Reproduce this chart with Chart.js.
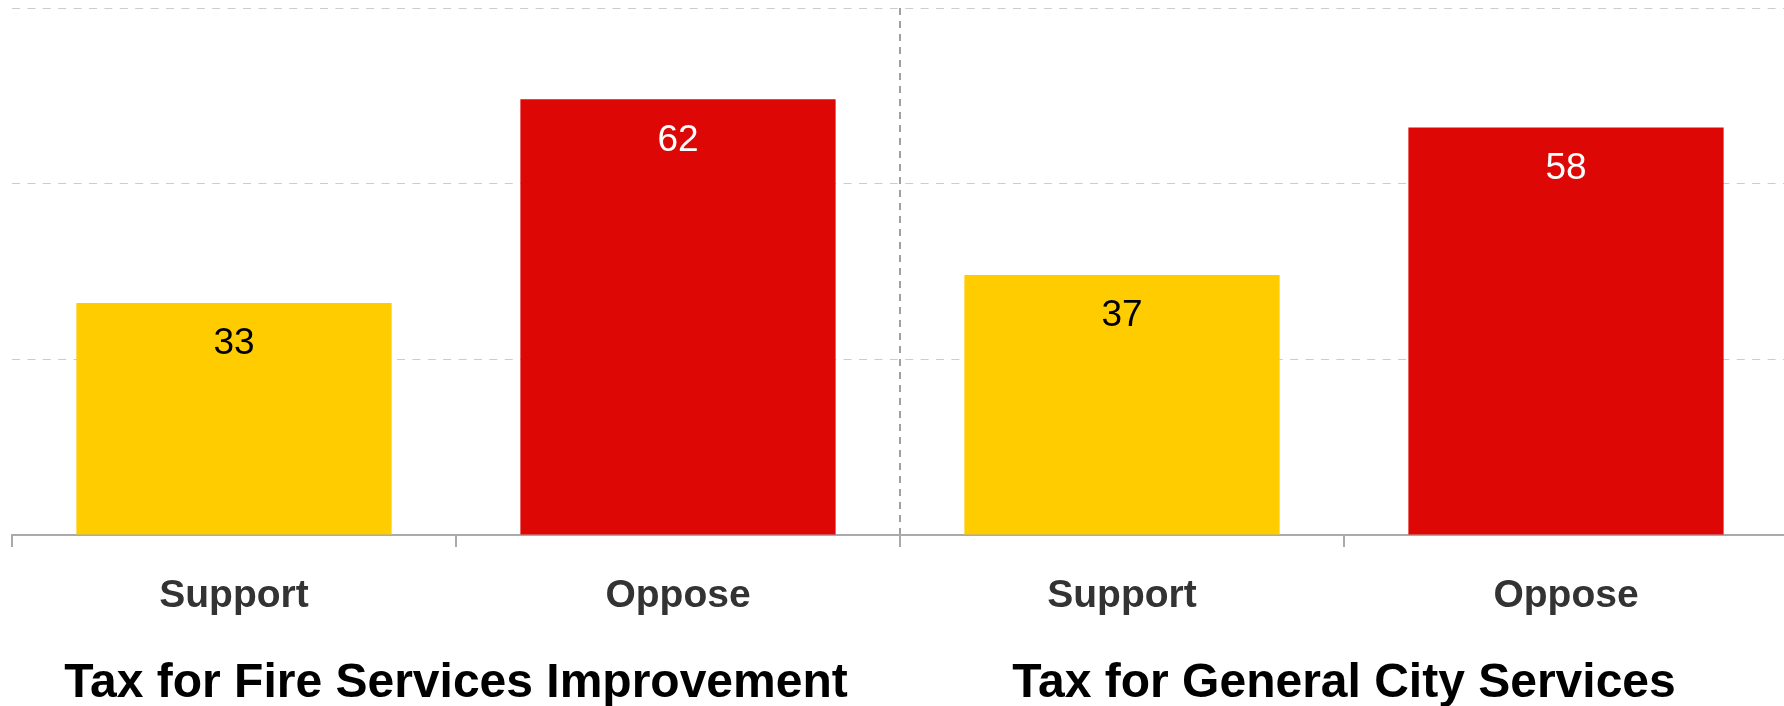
<!DOCTYPE html>
<html>
<head>
<meta charset="utf-8">
<script src="https://cdn.jsdelivr.net/npm/chart.js@4/dist/chart.umd.min.js"></script>
<style>
  html, body { margin: 0; padding: 0; overflow: hidden; background: #fff; }
  .wrap { width: 1788px; height: 706px; }
</style>
</head>
<body>
<div class="wrap"><canvas id="myChart"></canvas></div>
<script>
/* data */
let answers = ['Support', 'Oppose', 'Support', 'Oppose'];
let questions = ['Tax for Fire Services Improvement', 'Tax for General City Services'];
let percents = [33, 62, 37, 58];
let yTicks = [0, 25, 50, 75];

let barColors = ['#FFCC00', '#DD0805', '#FFCC00', '#DD0805'];
let labelColors = ['#000000', '#FFFFFF', '#000000', '#FFFFFF'];
let fontFamily = "'Liberation Sans', Arial, sans-serif";

/* value labels inside the bars */
let valueLabels = {
  id: 'valueLabels',
  afterDatasetsDraw(chart) {
    let ctx = chart.ctx;
    let meta = chart.getDatasetMeta(0);
    ctx.save();
    ctx.font = '37px ' + fontFamily;
    ctx.textAlign = 'center';
    ctx.textBaseline = 'middle';
    meta.data.forEach((bar, i) => {
      ctx.fillStyle = labelColors[i];
      ctx.fillText(percents[i], bar.x, bar.y + 41);
    });
    ctx.restore();
  }
};

let ctx = document.getElementById('myChart').getContext('2d');
let my_chart = new Chart(ctx, {
  type: 'bar',
  data: {
    labels: answers,
    datasets: [{
      data: percents,
      backgroundColor: barColors,
      borderWidth: 0,
      categoryPercentage: 1,
      barPercentage: 0.71
    }]
  },
  options: {
    responsive: true,
    maintainAspectRatio: false,
    animation: false,
    layout: { padding: { top: 8, left: 12, right: 0, bottom: 0 } },
    plugins: {
      legend: { display: false },
      tooltip: { enabled: false }
    },
    scales: {
      x: {
        weight: 0,
        grid: {
          offset: true,
          color: (c) => c.index === 2 ? '#a0a0a0' : 'rgba(0,0,0,0)',
          lineWidth: 2,
          tickColor: '#aaaaaa',
          tickWidth: 2,
          tickLength: 12
        },
        border: { display: true, color: '#aaaaaa', width: 2, dash: [7, 6] },
        ticks: {
          color: '#333333',
          font: { family: fontFamily, size: 39, weight: 'bold' },
          padding: 26,
          maxRotation: 0
        },
        afterFit: (scale) => { scale.height = 80; }
      },
      x2: {
        type: 'category',
        position: 'bottom',
        weight: 1,
        labels: questions,
        offset: true,
        grid: { display: false, drawTicks: false },
        border: { display: false },
        ticks: {
          color: '#000000',
          font: { family: fontFamily, size: 48, weight: 'bold' },
          padding: 40,
          maxRotation: 0
        },
        afterFit: (scale) => { scale.height = 91; }
      },
      y: {
        min: yTicks[0],
        max: yTicks[yTicks.length - 1],
        afterBuildTicks: (scale) => { scale.ticks = yTicks.map(v => ({ value: v })); },
        grid: {
          color: (c) => c.tick && c.tick.value === 0 ? 'rgba(0,0,0,0)' : '#cccccc',
          lineWidth: 1,
          drawTicks: false
        },
        border: { display: false, dash: [8, 7.4] },
        ticks: { display: false }
      }
    }
  },
  plugins: [valueLabels]
});
</script>
</body>
</html>
